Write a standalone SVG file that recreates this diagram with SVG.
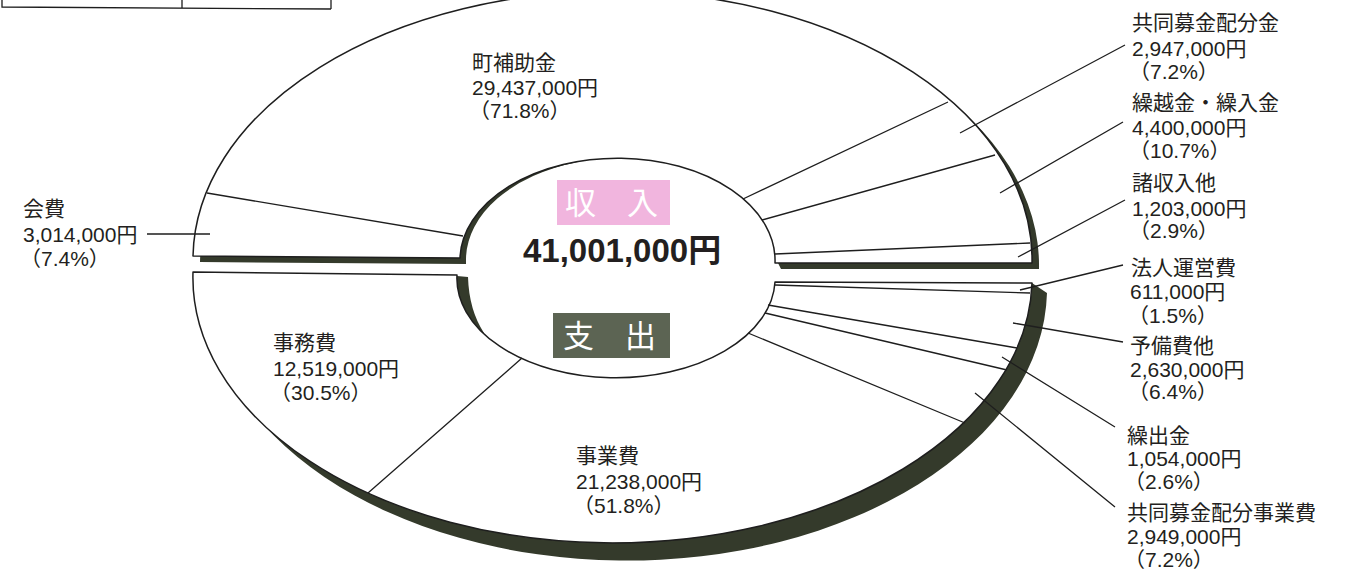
<svg xmlns="http://www.w3.org/2000/svg" width="1348" height="574" viewBox="0 0 1348 574">
<style>
.ring{fill:#fff;stroke:#1e1e1e;stroke-width:1.5;stroke-linejoin:round}
.shadow{fill:#343a2b}
.div{stroke:#1e1e1e;stroke-width:1.3;fill:none}
.lead{stroke:#1e1e1e;stroke-width:1.3;fill:none}
.t{font-family:"Liberation Sans","Noto Sans CJK JP",sans-serif;font-size:21px;fill:#231f20}
.big{font-family:"Liberation Sans","Noto Sans CJK JP",sans-serif;font-size:33px;font-weight:bold;fill:#231f20}
.badge{font-family:"Noto Sans CJK JP",sans-serif;font-size:31px;fill:#fff}
</style>
<rect width="1348" height="574" fill="#fff"/>

<g id="header-table">
<path class="div" d="M2,0 V7 L331,9 M182,0 V8 M331,0 V9"/>
</g>

<g id="income-ring">
<path class="shadow" d="M200,262 A419 268 0 0 1 1039,269 L781,269 L778,263 L800,200 L700,140 L600,150 L578,162 A157.5 102 0 0 0 466,259 L466,264 Z"/>
<path class="ring" d="M193,256 A419 268 0 0 1 1032,263 L775,263 A157 102 0 0 0 460,258 Z"/>
<path class="div" d="M207,193 L463,236 M743,199 L948,102 M762,220 L995,155 M775,254 L1030,243"/>
</g>

<g id="expense-ring">
<path class="shadow" d="M1032,283 L1047,293 A419 272 0 0 1 207,283 L440,290 L457,276 L468,277 Q469,310 484,333 L470,345 L600,450 L800,420 L900,300 Z"/>
<path class="ring" d="M193,272 L457,275 A158.5 99 0 0 0 775,282 L1032,283 A419 265 0 0 1 193,272 Z"/>
<path class="div" d="M775,285 L1030,293 M768,305 L1017,348 M765,313 L1007,370 M748,333 L965,423 M522,358 L368,493"/>
</g>

<g id="center-total">
<rect x="557" y="180" width="113" height="45" fill="#f1b5de"/>
<text class="badge" x="565" y="214">収　入</text>
<text class="big" x="523" y="262">41,001,000円</text>
<rect x="553" y="313" width="117" height="45" fill="#5c6453"/>
<text class="badge" x="563" y="347">支　出</text>
</g>

<g id="label-town-subsidy">
<text class="t" x="472" y="70">町補助金</text>
<text class="t" x="472" y="95">29,437,000円</text>
<text class="t" x="469" y="118">（71.8%）</text>
</g>
<g id="label-membership">
<text class="t" x="23" y="216">会費</text>
<text class="t" x="23" y="242">3,014,000円</text>
<text class="t" x="20" y="266">（7.4%）</text>
</g>
<g id="label-community-chest">
<text class="t" x="1132" y="30">共同募金配分金</text>
<text class="t" x="1132" y="56">2,947,000円</text>
<text class="t" x="1129" y="79">（7.2%）</text>
</g>
<g id="label-carryover">
<text class="t" x="1132" y="110">繰越金・繰入金</text>
<text class="t" x="1132" y="135">4,400,000円</text>
<text class="t" x="1129" y="158">（10.7%）</text>
</g>
<g id="label-misc-income">
<text class="t" x="1132" y="190">諸収入他</text>
<text class="t" x="1132" y="216">1,203,000円</text>
<text class="t" x="1129" y="238">（2.9%）</text>
</g>
<g id="label-corporate">
<text class="t" x="1131" y="275">法人運営費</text>
<text class="t" x="1130" y="299">611,000円</text>
<text class="t" x="1128" y="323">（1.5%）</text>
</g>
<g id="label-reserve">
<text class="t" x="1130" y="353">予備費他</text>
<text class="t" x="1130" y="377">2,630,000円</text>
<text class="t" x="1128" y="399">（6.4%）</text>
</g>
<g id="label-transfer-out">
<text class="t" x="1127" y="443">繰出金</text>
<text class="t" x="1127" y="466">1,054,000円</text>
<text class="t" x="1124" y="489">（2.6%）</text>
</g>
<g id="label-chest-projects">
<text class="t" x="1127" y="520">共同募金配分事業費</text>
<text class="t" x="1127" y="544">2,949,000円</text>
<text class="t" x="1124" y="567">（7.2%）</text>
</g>
<g id="label-office">
<text class="t" x="273" y="350">事務費</text>
<text class="t" x="273" y="376">12,519,000円</text>
<text class="t" x="270" y="400">（30.5%）</text>
</g>
<g id="label-projects">
<text class="t" x="576" y="463">事業費</text>
<text class="t" x="576" y="489">21,238,000円</text>
<text class="t" x="573" y="513">（51.8%）</text>
</g>

<g id="connectors">
<path class="lead" d="M147,234 H210 M960,133 L1125,45 M1000,193 L1123,122 M1018,257 L1125,200 M1020,290 L1123,265 M1013,323 L1123,342 M1002,357 L1115,427 M975,393 L1115,507"/>
</g>
</svg>
